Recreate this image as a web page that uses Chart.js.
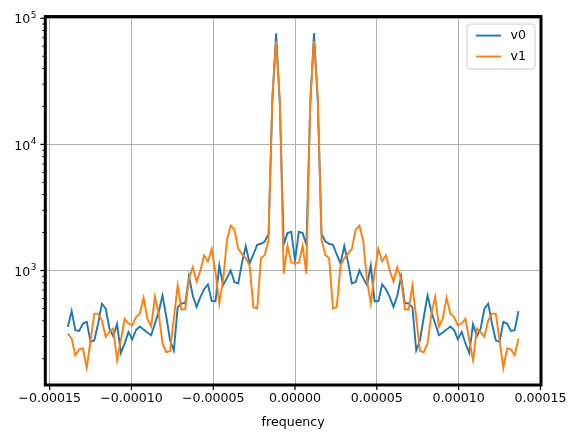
<!DOCTYPE html>
<html><head><meta charset="utf-8">
<script src="https://cdn.jsdelivr.net/npm/chart.js@4.4.1/dist/chart.umd.min.js"></script>
<style>html,body{margin:0;padding:0;background:#fff;}#wrap{width:579px;height:438px;}</style>
</head><body><div id="wrap"><canvas id="c" width="579" height="438"></canvas></div>
<script>
// frequency in micro-hertz (converted to Hz when plotted)
const frequencyMicroHz = [
-138.889,-136.574,-134.259,-131.944,-129.630,-127.315,-125.000,-122.685,-120.370,-118.056,
-115.741,-113.426,-111.111,-108.796,-106.481,-104.167,-101.852,-99.537,-97.222,-94.907,
-92.593,-90.278,-87.963,-85.648,-83.333,-81.019,-78.704,-76.389,-74.074,-71.759,
-69.444,-67.130,-64.815,-62.500,-60.185,-57.870,-55.556,-53.241,-50.926,-48.611,
-46.296,-43.981,-41.667,-39.352,-37.037,-34.722,-32.407,-30.093,-27.778,-25.463,
-23.148,-20.833,-18.519,-16.204,-13.889,-11.574,-9.259,-6.944,-4.630,-2.315,
0,2.315,4.630,6.944,9.259,11.574,13.889,16.204,18.519,20.833,
23.148,25.463,27.778,30.093,32.407,34.722,37.037,39.352,41.667,43.981,
46.296,48.611,50.926,53.241,55.556,57.870,60.185,62.500,64.815,67.130,
69.444,71.759,74.074,76.389,78.704,81.019,83.333,85.648,87.963,90.278,
92.593,94.907,97.222,99.537,101.852,104.167,106.481,108.796,111.111,113.426,
115.741,118.056,120.370,122.685,125.000,127.315,129.630,131.944,134.259,136.574
];
const v0 = [
357,477,336,332,380,392,272,280,380,546,
498,346,301,375,222,264,326,284,338,360,
340,322,307,380,470,635,430,280,232,510,
550,550,900,630,515,615,710,775,572,570,
1095,765,870,1000,810,790,1160,1560,1140,1340,
1600,1630,1700,1950,22000,76000,20000,1600,1980,2030,
1200,2030,1980,1600,20000,76000,22000,1950,1700,1630,
1600,1340,1140,1560,1160,790,810,1000,870,765,
1095,570,572,775,710,615,515,630,900,550,
550,510,232,280,430,635,470,380,307,322,
340,360,338,284,326,264,222,375,301,346,
498,546,380,280,272,392,380,332,336,477
];
const v1 = [
316,289,213,237,241,168,280,455,455,403,
298,326,346,195,280,415,380,368,428,455,
610,415,360,620,455,264,225,230,420,762,
490,495,860,1062,820,1000,1320,1180,1483,970,
546,834,1725,2265,2107,1483,1354,1250,1095,513,
498,1250,1330,1750,24000,66000,22000,942,1575,1155,
1150,1155,1575,942,22000,66000,24000,1750,1330,1250,
498,513,1095,1250,1354,1483,2107,2265,1725,834,
546,970,1483,1180,1320,1000,820,1062,860,495,
490,762,420,230,225,264,455,620,360,415,
610,455,428,368,380,415,280,195,346,326,
298,403,455,455,280,168,241,237,213,289
];
const seriesNames = ['v0','v1'];
const seriesColors = ['#1f77b4','#ff7f0e'];
const xTicks = [-0.00015,-0.0001,-0.00005,0,0.00005,0.0001,0.00015];
const xTickLabels = ['\u22120.00015','\u22120.00010','\u22120.00005','0.00000','0.00005','0.00010','0.00015'];
const yMajorTicks = [1000,10000,100000];
const yTickBase = ['10','10','10'];
const yTickExp = ['3','4','5'];
const xTitle = 'frequency';

const FONT = 'DejaVu Sans';
const FS = 12.6;
const FSX = 8.9;

function pts(arr){ return arr.map((v,i)=>({x: frequencyMicroHz[i]/1e6, y: v})); }

const decor = {
  id:'decor',
  afterDraw(chart){
    const ctx = chart.ctx, a = chart.chartArea;
    const xs = chart.scales.x, ys = chart.scales.y;
    ctx.save();
    ctx.strokeStyle = '#000';
    ctx.lineWidth = 1.2;
    xTicks.forEach(v=>{
      const p = xs.getPixelForValue(v);
      ctx.beginPath(); ctx.moveTo(p, a.bottom); ctx.lineTo(p, a.bottom+5); ctx.stroke();
    });
    ys.ticks.forEach(t=>{
      const p = ys.getPixelForValue(t.value);
      const len = t.major ? 5 : 3;
      ctx.lineWidth = t.major ? 1.2 : 1;
      ctx.beginPath(); ctx.moveTo(a.left-len, p); ctx.lineTo(a.left, p); ctx.stroke();
    });
    // y tick labels: base 10 with superscript exponent
    ctx.fillStyle = '#000';
    ctx.textBaseline = 'alphabetic'; ctx.textAlign = 'left';
    yMajorTicks.forEach((v,i)=>{
      const p = ys.getPixelForValue(v);
      const right = a.left - 9;
      ctx.font = FSX + 'px "' + FONT + '"';
      const we = ctx.measureText(yTickExp[i]).width;
      ctx.font = FS + 'px "' + FONT + '"';
      const wb = ctx.measureText(yTickBase[i]).width;
      ctx.fillText(yTickBase[i], right - we - wb - 0.5, p + 5.2);
      ctx.font = FSX + 'px "' + FONT + '"';
      ctx.fillText(yTickExp[i], right - we, p - 0.6);
    });
    // spines
    ctx.lineWidth = 3;
    ctx.strokeRect(a.left, a.top, a.right-a.left, a.bottom-a.top);
    // legend
    const w = 68, h = 45;
    const x0 = a.right - 6 - w, y0 = a.top + 7.5;
    const r = 3;
    ctx.beginPath();
    ctx.moveTo(x0+r,y0); ctx.lineTo(x0+w-r,y0); ctx.arcTo(x0+w,y0,x0+w,y0+r,r);
    ctx.lineTo(x0+w,y0+h-r); ctx.arcTo(x0+w,y0+h,x0+w-r,y0+h,r);
    ctx.lineTo(x0+r,y0+h); ctx.arcTo(x0,y0+h,x0,y0+h-r,r);
    ctx.lineTo(x0,y0+r); ctx.arcTo(x0,y0,x0+r,y0,r); ctx.closePath();
    ctx.fillStyle = 'rgba(255,255,255,0.8)'; ctx.fill();
    ctx.strokeStyle = '#cccccc'; ctx.lineWidth = 1; ctx.stroke();
    ctx.font = FS + 'px "' + FONT + '"';
    ctx.textBaseline = 'middle'; ctx.textAlign = 'left';
    chart.data.datasets.forEach((ds,i)=>{
      const yy = y0 + 11.5 + i*21;
      ctx.strokeStyle = ds.borderColor; ctx.lineWidth = 1.9;
      ctx.beginPath(); ctx.moveTo(x0+9, yy); ctx.lineTo(x0+34, yy); ctx.stroke();
      ctx.fillStyle = '#000';
      ctx.fillText(ds.label, x0+43.5, yy);
    });
    ctx.restore();
  }
};

new Chart(document.getElementById('c'), {
  type:'line',
  data:{ datasets:[
    {label:seriesNames[0], data:pts(v0), borderColor:seriesColors[0], backgroundColor:seriesColors[0], order:1},
    {label:seriesNames[1], data:pts(v1), borderColor:seriesColors[1], backgroundColor:seriesColors[1], order:0}
  ]},
  options:{
    responsive:false, animation:false, devicePixelRatio:1,
    layout:{padding:{left:0,right:38,top:15.5,bottom:0}},
    plugins:{legend:{display:false}, tooltip:{enabled:false}},
    elements:{point:{radius:0,hoverRadius:0}, line:{tension:0, borderWidth:1.9, fill:false}},
    scales:{
      x:{type:'linear', min:-1.5266e-4, max:1.5034e-4,
        afterBuildTicks:(s)=>{ s.ticks = xTicks.map(v=>({value:v})); },
        afterFit:(s)=>{ s.height = 53; },
        ticks:{autoSkip:false, maxRotation:0, minRotation:0, padding:6.5, color:'#000',
          font:{family:FONT,size:FS}, callback:(v,i)=>xTickLabels[i]},
        grid:{color:'#b0b0b0', lineWidth:1, drawTicks:false},
        border:{display:false},
        title:{display:true, text:xTitle, color:'#000', font:{family:FONT,size:FS}, padding:{top:0,bottom:8}}
      },
      y:{type:'logarithmic', min:123.7, max:103180,
        afterBuildTicks:(s)=>{
          const t=[];
          for(let e=2;e<=5;e++){ for(let m=1;m<=9;m++){ const v=m*Math.pow(10,e); if(v>=s.min && v<=s.max) t.push({value:v, major:m===1}); } }
          s.ticks=t;
        },
        afterFit:(s)=>{ s.width = 45.3; },
        ticks:{autoSkip:false, padding:9, color:'#000', font:{family:FONT,size:FS},
          callback:()=>''},
        grid:{color:(c)=> (c.tick && yMajorTicks.indexOf(c.tick.value)>=0) ? '#b0b0b0' : 'rgba(0,0,0,0)', lineWidth:1, drawTicks:false},
        border:{display:false}
      }
    }
  },
  plugins:[decor]
});
</script></body></html>
